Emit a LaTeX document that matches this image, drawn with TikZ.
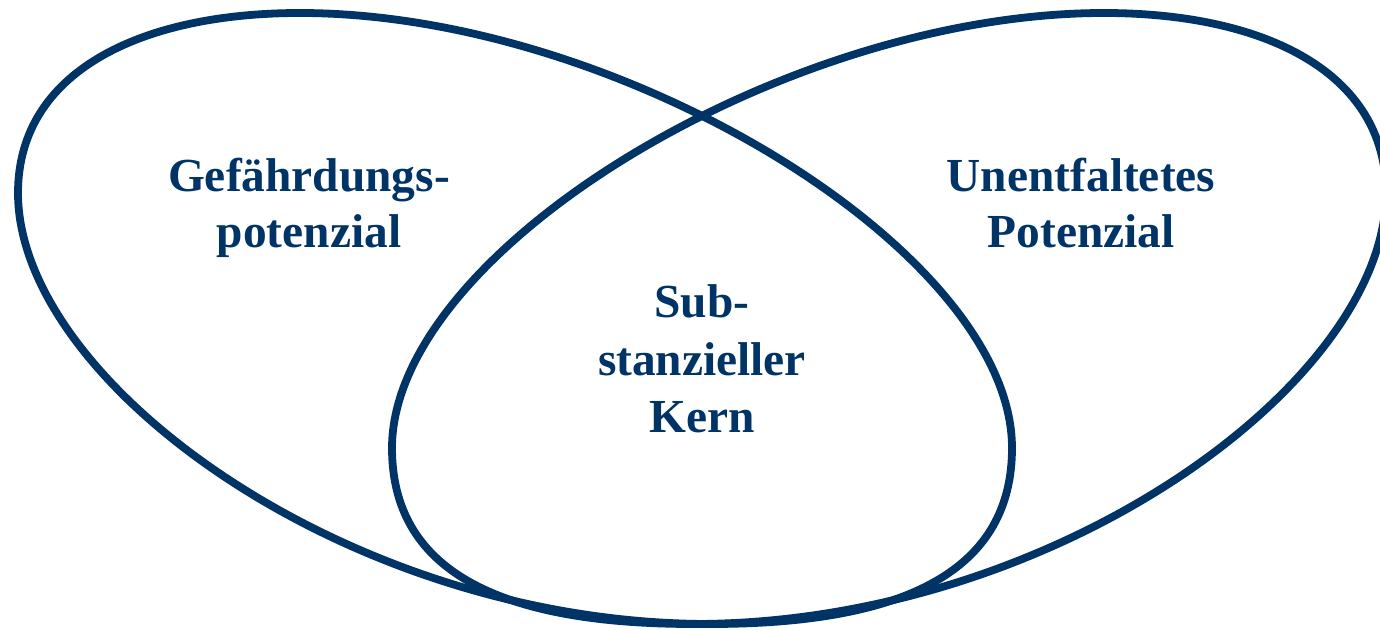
\documentclass[tikz,border=0pt]{standalone}
\usepackage{fontspec}
\setmainfont{Liberation Serif}
\definecolor{navy}{RGB}{0,51,102}
\tikzset{
  blob/.style={draw=navy, line width=3.9pt, line join=round},
  lab/.style={text=navy, font=\fontsize{23.7}{28}\selectfont\bfseries, inner sep=0pt, anchor=base}
}
\newcommand{\blobpath}{(18,193) .. controls (18,72) and (140,13) .. (300,13)
  .. controls (621,13) and (1012,252) .. (1012,448)
  .. controls (1012,568) and (910,624) .. (710,624)
  .. controls (350,624) and (18,383) .. (18,193) -- cycle}
\begin{document}
\begin{tikzpicture}[x=0.5pt, y=-0.5pt]
\useasboundingbox (0,0) rectangle (1380,630);
\draw[blob] \blobpath;
\begin{scope}[shift={(1404,0)}, xscale=-1]
\draw[blob] \blobpath;
\end{scope}
\node[lab] (g1) at (309,192) {Gefährdungs-};
\node[lab] (g2) at (309,248) {potenzial};
\node[lab] (u1) at (1081,192) {Unentfaltetes};
\node[lab] (u2) at (1081,248) {Potenzial};
\node[lab] (s1) at (702,318) {Sub-};
\node[lab] (s2) at (702,375) {stanzieller};
\node[lab] (s3) at (702,432) {Kern};
\end{tikzpicture}
\end{document}
